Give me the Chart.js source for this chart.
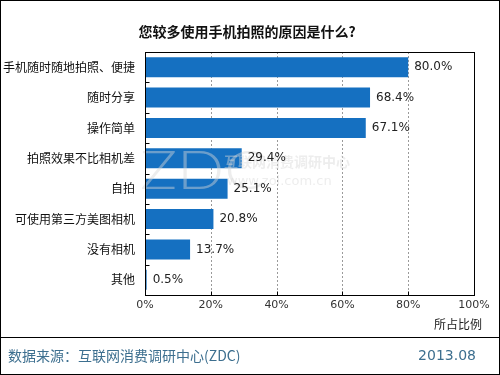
<!DOCTYPE html>
<html><head><meta charset="utf-8">
<script src="https://cdn.jsdelivr.net/npm/chart.js@4/dist/chart.umd.min.js"></script>
<style>html,body{margin:0;padding:0;background:#fff}#wrap{width:500px;height:375px;position:relative}</style>
</head><body><div id="wrap"><canvas id="c" width="500" height="375"></canvas></div>
<script>
const categories = ['手机随时随地拍照、便捷','随时分享','操作简单','拍照效果不比相机差','自拍','可使用第三方美图相机','没有相机','其他'];
const values = [80.0, 68.4, 67.1, 29.4, 25.1, 20.8, 13.7, 0.5];
const xTicks = [0, 20, 40, 60, 80, 100];
const titleText = '您较多使用手机拍照的原因是什么?';
const axisTitle = '所占比例';
const sourceText = '数据来源：互联网消费调研中心(ZDC)';
const dateText = '2013.08';

const CJK = '"Noto Sans CJK SC", "DejaVu Sans", sans-serif';
const NUM = '"DejaVu Sans", sans-serif';

const decor = {
  id: 'decor',
  beforeDatasetsDraw(chart) {
    const ctx = chart.ctx, a = chart.chartArea, xs = chart.scales.x;
    ctx.save();
    ctx.strokeStyle = '#9a9a9a';
    ctx.lineWidth = 1;
    ctx.setLineDash([2, 2]);
    xTicks.forEach(v => {
      if (v === 0 || v === 100) return;
      const x = Math.round(xs.getPixelForValue(v)) + 0.5;
      ctx.beginPath(); ctx.moveTo(x, a.top); ctx.lineTo(x, a.bottom); ctx.stroke();
    });
    ctx.restore();
  },
  afterDatasetsDraw(chart) {
    const ctx = chart.ctx;
    ctx.save();
    ctx.fillStyle = 'rgba(215,215,215,0.45)';
    ctx.textBaseline = 'middle';
    ctx.textAlign = 'left';
    ctx.save();
    ctx.translate(140, 172);
    ctx.scale(1.15, 1);
    ctx.font = '300 54px "Lato", sans-serif';
    ctx.fillText('ZDC', 0, 0);
    ctx.restore();
    ctx.font = 'bold 14px ' + CJK;
    ctx.fillText('互联网消费调研中心', 224, 162);
    ctx.font = '13px ' + NUM;
    ctx.fillText('www.zol.com.cn', 227, 182);
    ctx.restore();
  },
  afterDraw(chart) {
    const ctx = chart.ctx, a = chart.chartArea, xs = chart.scales.x;
    const meta = chart.getDatasetMeta(0);
    ctx.save();
    const L = Math.round(a.left) + 0.5, T = Math.round(a.top) + 0.5, R = Math.round(a.right) + 0.5, B = Math.round(a.bottom) + 0.5;
    ctx.strokeStyle = '#000';
    ctx.lineWidth = 1;
    ctx.strokeRect(L, T, R - L, B - T);
    ctx.beginPath();
    xTicks.forEach(v => {
      const x = Math.round(xs.getPixelForValue(v)) + 0.5;
      ctx.moveTo(x, B); ctx.lineTo(x, B - 4);
    });
    for (let i = 0; i <= categories.length; i++) {
      const y = Math.round(a.top + (a.bottom - a.top) * i / categories.length) + 0.5;
      ctx.moveTo(L, y); ctx.lineTo(L + 4, y);
    }
    ctx.stroke();
    ctx.fillStyle = '#222';
    ctx.font = '12px ' + NUM;
    ctx.textBaseline = 'middle';
    ctx.textAlign = 'left';
    meta.data.forEach((b, i) => {
      ctx.fillText(values[i].toFixed(1) + '%', b.x + 6, b.y);
    });
    ctx.fillStyle = '#111';
    ctx.font = 'bold 14px ' + CJK;
    ctx.textAlign = 'center';
    ctx.fillText(titleText, 247, 32);
    ctx.font = '12px ' + CJK;
    ctx.fillStyle = '#222';
    ctx.textAlign = 'right';
    ctx.fillText(axisTitle, 482, 324);
    ctx.strokeStyle = '#000';
    ctx.beginPath();
    ctx.moveTo(0, 337.5); ctx.lineTo(500, 337.5);
    ctx.stroke();
    ctx.fillStyle = '#3d6f8f';
    ctx.font = '14px ' + CJK;
    ctx.textAlign = 'left';
    ctx.fillText(sourceText, 8, 356);
    ctx.font = '14px ' + NUM;
    ctx.textAlign = 'right';
    ctx.fillText(dateText, 476, 356);
    ctx.strokeStyle = '#000';
    ctx.strokeRect(0.5, 0.5, 499, 374);
    ctx.restore();
  }
};

new Chart(document.getElementById('c'), {
  type: 'bar',
  data: {
    labels: categories,
    datasets: [{ data: values, backgroundColor: '#1570c1', borderWidth: 0, barPercentage: 0.66, categoryPercentage: 1.0 }]
  },
  options: {
    indexAxis: 'y',
    responsive: false,
    animation: false,
    devicePixelRatio: 1,
    layout: { padding: { top: 52, right: 26, left: 0, bottom: 0 } },
    plugins: { legend: { display: false }, tooltip: { enabled: false }, title: { display: false } },
    scales: {
      x: {
        min: 0, max: 100,
        afterBuildTicks(s) { s.ticks = xTicks.map(v => ({ value: v })); },
        afterFit(s) { s.height = 80; },
        ticks: { callback: v => v + '%', color: '#333', font: { family: NUM, size: 11 }, padding: 4, maxRotation: 0 },
        grid: { display: false, drawTicks: false },
        border: { display: false }
      },
      y: {
        afterFit(s) { s.width = 145; },
        ticks: { color: '#111', font: { family: CJK, size: 12 }, padding: 10 },
        grid: { display: false, drawTicks: false },
        border: { display: false }
      }
    }
  },
  plugins: [decor]
});
</script>
</body></html>
